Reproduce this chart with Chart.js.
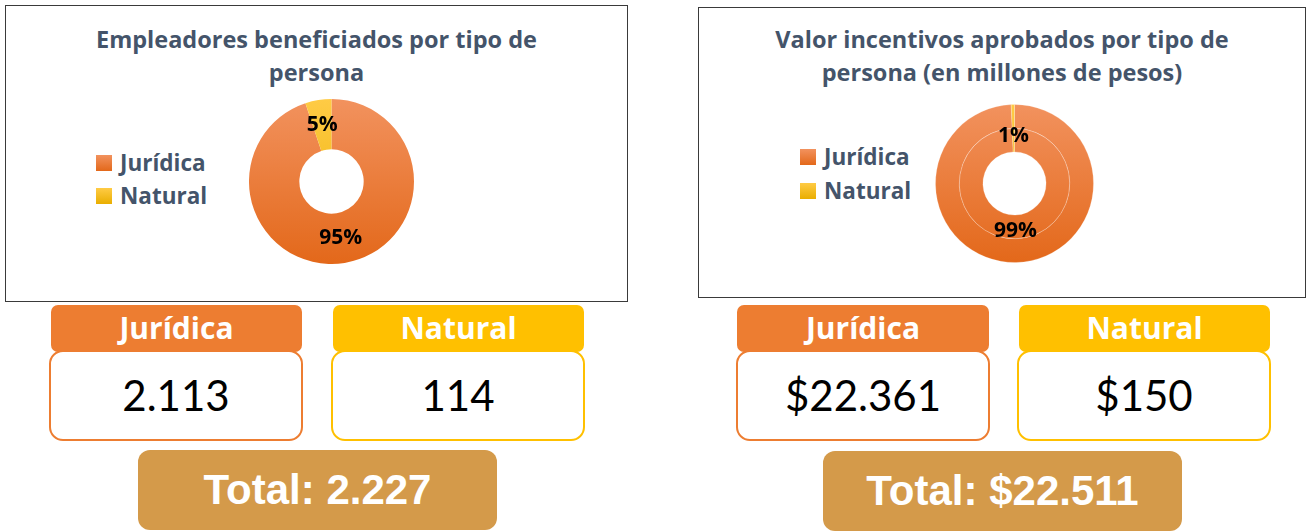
<!DOCTYPE html>
<html lang="es">
<head>
<meta charset="utf-8">
<title>Empleadores e incentivos por tipo de persona</title>
<script src="https://cdn.jsdelivr.net/npm/chart.js@4.4.0/dist/chart.umd.min.js"></script>
<style>
    html, body {
        margin: 0;
        padding: 0;
        background: #fff;
    }
    .page {
        position: relative;
        width: 1313px;
        height: 531px;
        overflow: hidden;
        font-family: 'Lato', 'Open Sans', sans-serif;
    }
    .frame {
        position: absolute;
        box-sizing: border-box;
        border: 1.5px solid #3a3a3a;
    }
    .title {
        position: absolute;
        left: 0;
        right: 0;
        text-align: center;
        font-family: 'Open Sans', sans-serif;
        font-weight: 700;
        font-size: 23.5px;
        line-height: 33px;
        color: #44546A;
    }
    .legend-item {
        position: absolute;
        height: 16px;
        font-family: 'Open Sans', sans-serif;
        font-weight: 700;
        font-size: 22.5px;
        line-height: 16px;
        color: #44546A;
        white-space: nowrap;
    }
    .legend-item i {
        position: absolute;
        left: 0;
        top: 0;
        width: 16px;
        height: 16px;
    }
    .legend-item span {
        position: absolute;
        left: 24px;
        top: 0;
    }
    .chart-box {
        position: absolute;
    }
    .head {
        position: absolute;
        height: 47px;
        border-radius: 7px;
        color: #fff;
        font-family: 'Open Sans', sans-serif;
        font-weight: 700;
        font-size: 30px;
        line-height: 46px;
        text-align: center;
    }
    .value {
        position: absolute;
        box-sizing: border-box;
        height: 91px;
        border: 2px solid;
        border-radius: 14px;
        background: #fff;
        font-size: 42px;
        line-height: 87px;
        text-align: center;
        color: #000;
    }
    .total {
        position: absolute;
        height: 80px;
        border-radius: 12px;
        background: #D49A4A;
        color: #fff;
        font-family: 'Liberation Sans', Arial, sans-serif;
        font-weight: 700;
        font-size: 42px;
        line-height: 80px;
        text-align: center;
    }
</style>
</head>
<body>
<div class="page">
    <!-- grafico 1 -->
    <div class="frame" style="left:5px; top:5px; width:623px; height:297px;">
        <div class="title" style="top:17px;">Empleadores beneficiados por tipo de<br>persona</div>
    </div>
    <div class="legend-item" style="left:96px; top:155px;"><i class="sq-jur"></i><span id="leg1-0"></span></div>
    <div class="legend-item" style="left:96px; top:188px;"><i class="sq-nat"></i><span id="leg1-1"></span></div>
    <div class="chart-box" style="left:249px; top:99px; width:165px; height:165px;">
        <canvas id="chart-1"></canvas>
    </div>

    <!-- grafico 2 -->
    <div class="frame" style="left:698px; top:7px; width:608px; height:291px;">
        <div class="title" style="top:15px;">Valor incentivos aprobados por tipo de<br>persona (en millones de pesos)</div>
    </div>
    <div class="legend-item" style="left:800px; top:149px;"><i class="sq-jur"></i><span id="leg2-0"></span></div>
    <div class="legend-item" style="left:800px; top:183px;"><i class="sq-nat"></i><span id="leg2-1"></span></div>
    <div class="chart-box" style="left:935px; top:104px; width:159px; height:159px;">
        <canvas id="chart-2"></canvas>
    </div>

    <!-- tarjetas -->
    <div class="head" style="left:51px; top:305px; width:251px; background:#ED7D31;" id="h1-0"></div>
    <div class="value" style="left:49px; top:350px; width:254px; border-color:#ED7D31;" id="v1-0"></div>
    <div class="head" style="left:333px; top:305px; width:251px; background:#FFC000;" id="h1-1"></div>
    <div class="value" style="left:331px; top:350px; width:254px; border-color:#FFC000;" id="v1-1"></div>
    <div class="total" style="left:138px; top:450px; width:359px;" id="t1"></div>

    <div class="head" style="left:737px; top:305px; width:252px; background:#ED7D31;" id="h2-0"></div>
    <div class="value" style="left:736px; top:350px; width:254px; border-color:#ED7D31;" id="v2-0"></div>
    <div class="head" style="left:1019px; top:305px; width:251px; background:#FFC000;" id="h2-1"></div>
    <div class="value" style="left:1017px; top:350px; width:254px; border-color:#FFC000;" id="v2-1"></div>
    <div class="total" style="left:823px; top:451px; width:359px;" id="t2"></div>
</div>

<script>
// datos
const categories = ['Jurídica', 'Natural'];
const empleadores = [2113, 114];
const incentivos = [22361, 150];   // millones de pesos

// colores (degradado arriba -> abajo, como en Excel)
const gradTop = ['#F2925E', '#FFCB45'];
const gradBottom = ['#E3681A', '#E9AE00'];

// separador de miles con punto
function fmt(n) {
    return String(n).replace(/\B(?=(\d{3})+(?!\d))/g, '.');
}

function sum(arr) {
    return arr.reduce((a, b) => a + b, 0);
}

// leyendas y tarjetas
document.querySelectorAll('.sq-jur').forEach(el => {
    el.style.background = 'linear-gradient(' + gradTop[0] + ',' + gradBottom[0] + ')';
});
document.querySelectorAll('.sq-nat').forEach(el => {
    el.style.background = 'linear-gradient(' + gradTop[1] + ',' + gradBottom[1] + ')';
});

categories.forEach((c, i) => {
    document.getElementById('leg1-' + i).textContent = c;
    document.getElementById('leg2-' + i).textContent = c;
    document.getElementById('h1-' + i).textContent = c;
    document.getElementById('h2-' + i).textContent = c;
    document.getElementById('v1-' + i).textContent = fmt(empleadores[i]);
    document.getElementById('v2-' + i).textContent = '$' + fmt(incentivos[i]);
});
document.getElementById('t1').textContent = 'Total: ' + fmt(sum(empleadores));
document.getElementById('t2').textContent = 'Total: $' + fmt(sum(incentivos));

// relleno degradado para cada porcion
function sliceFill(context) {
    const chart = context.chart;
    const area = chart.chartArea;
    const i = context.dataIndex;
    if (!area) return gradTop[i];
    const g = chart.ctx.createLinearGradient(0, area.top, 0, area.bottom);
    g.addColorStop(0, gradTop[i]);
    g.addColorStop(1, gradBottom[i]);
    return g;
}

// etiquetas de porcentaje dentro del anillo
const pctLabels = {
    id: 'pctLabels',
    afterDatasetsDraw(chart, args, opts) {
        const ctx = chart.ctx;
        const outerMeta = chart.getDatasetMeta(0);
        const innerMeta = chart.getDatasetMeta(chart.data.datasets.length - 1);
        const values = chart.data.datasets[0].data;
        const total = sum(values);
        const outer = outerMeta.data[0].outerRadius;
        const inner = innerMeta.data[0].innerRadius;
        const r = inner + opts.radius * (outer - inner);

        ctx.save();
        ctx.font = 'bold 21px "Open Sans", sans-serif';
        ctx.fillStyle = '#000';
        ctx.textAlign = 'center';
        ctx.textBaseline = 'middle';
        outerMeta.data.forEach((arc, i) => {
            const mid = (arc.startAngle + arc.endAngle) / 2;
            const x = arc.x + Math.cos(mid) * r;
            const y = arc.y + Math.sin(mid) * r;
            ctx.fillText(Math.round(values[i] / total * 100) + '%', x, y);
        });
        ctx.restore();
    }
};

const baseOptions = {
    responsive: true,
    maintainAspectRatio: false,
    animation: false,
    layout: { padding: 0 },
    plugins: {
        legend: { display: false },
        tooltip: { enabled: false }
    }
};

// diagrama 1
const chartFirst = new Chart(document.getElementById('chart-1'), {
    type: 'doughnut',
    data: {
        labels: categories,
        datasets: [{
            data: empleadores,
            backgroundColor: sliceFill,
            borderWidth: 0,
            hoverOffset: 0
        }]
    },
    options: Object.assign({}, baseOptions, {
        cutout: '39%',
        plugins: Object.assign({}, baseOptions.plugins, { pctLabels: { radius: 0.5 } })
    }),
    plugins: [pctLabels]
});

// diagrama 2 (dos anillos con los mismos datos)
const chartSecond = new Chart(document.getElementById('chart-2'), {
    type: 'doughnut',
    data: {
        labels: categories,
        datasets: [{
            data: incentivos,
            backgroundColor: sliceFill,
            borderWidth: 1,
            borderColor: 'rgba(255,255,255,0.22)',
            hoverOffset: 0
        }, {
            data: incentivos,
            backgroundColor: sliceFill,
            borderWidth: 1,
            borderColor: 'rgba(255,255,255,0.22)',
            hoverOffset: 0
        }]
    },
    options: Object.assign({}, baseOptions, {
        cutout: '40%',
        plugins: Object.assign({}, baseOptions.plugins, { pctLabels: { radius: 0.34 } })
    }),
    plugins: [pctLabels]
});
</script>
</body>
</html>
